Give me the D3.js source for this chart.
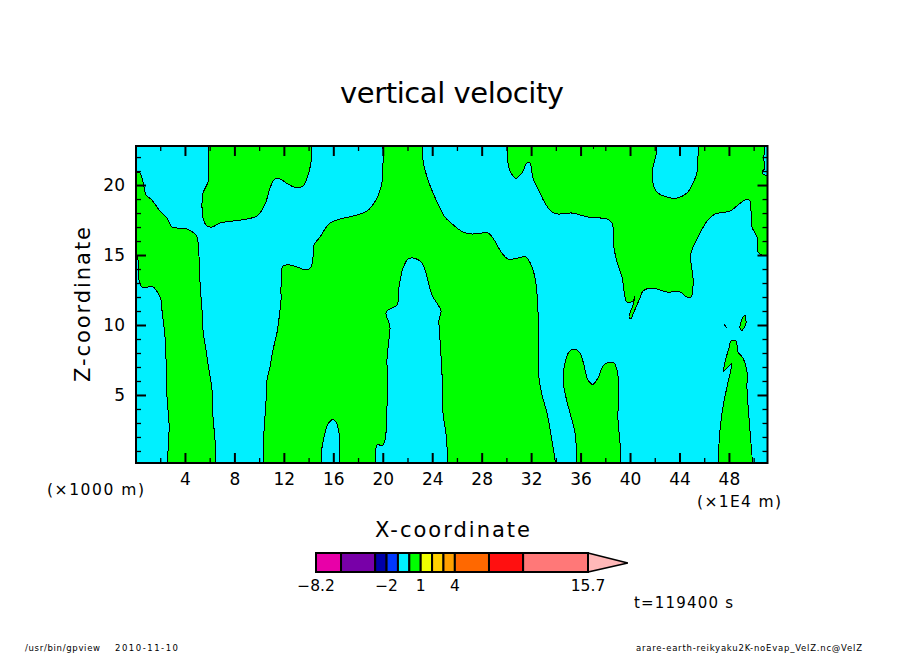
<!DOCTYPE html>
<html><head><meta charset="utf-8">
<script src="https://cdn.jsdelivr.net/npm/d3@7"></script>
<style>html,body{margin:0;padding:0;background:#fff}svg{display:block}
text{font-family:"DejaVu Sans",sans-serif;fill:#000}</style></head><body>
<script>
const title="vertical velocity", xTitle="X-coordinate", zTitle="Z-coordinate";
const xDomain=[0,51.16], zDomain=[0.14,22.79];
const xMajor=[4,8,12,16,20,24,28,32,36,40,44,48];
const xMinor=d3.range(2,51,2).filter(v=>v%4!==0);
const zMajor=[5,10,15,20];
const zMinor=d3.range(1,23).filter(v=>v%5!==0);

// Contour regions (vertical velocity above 0), x in 1E4 m, z in 1000 m
const regionA=[[0.1,20.93],[0.36,20.86],[0.61,20.21],[0.85,19.29],[1.33,18.93],[1.98,18.14],[2.55,17.64],[2.95,17],[3.36,16.93],[4.17,16.86],[4.73,16.57],[4.97,16.29],[5.14,14.86],[5.22,13],[5.38,11.07],[5.46,9.64],[5.7,8.21],[5.94,6.79],[6.19,5.36],[6.27,3.43],[6.43,1.79],[6.51,0],[2.55,0],[2.71,2.29],[2.71,3],[2.55,4.86],[2.47,7.5],[2.39,9.14],[2.14,11.07],[2.06,11.79],[1.9,12.14],[1.42,12.71],[0.53,12.71],[0.28,13.21],[0.2,14.64],[0.12,14.93],[-0.5,14.93],[-0.5,20.93]];
const regionB=[[5.86,23],[5.94,20.86],[5.86,20.21],[5.46,19.43],[5.38,18.71],[5.46,17.64],[5.78,17.07],[6.19,17],[6.83,17.29],[7.88,17.43],[9.02,17.57],[9.83,17.79],[10.23,18.21],[10.55,18.79],[10.88,19.79],[11.28,20.43],[11.69,20.43],[12.33,20.07],[13.06,19.79],[13.55,19.93],[13.87,20.5],[14.19,21.57],[14.27,23]];
const regionC=[[10.39,0],[10.39,2.29],[10.55,4.43],[10.64,6.07],[10.88,7],[11.12,8.21],[11.44,9.43],[11.69,11.07],[11.77,11.79],[11.77,12.71],[11.93,14.21],[12.5,14.29],[13.3,14.07],[13.79,13.93],[14.19,14.14],[14.36,14.86],[14.44,15.71],[14.92,16.29],[15.73,17.29],[16.54,17.57],[17.59,17.79],[18.72,18.14],[19.53,19.07],[19.94,20.21],[20.02,21.57],[20.02,23],[23.17,23],[23.25,21.79],[23.66,20.36],[24.39,18.79],[25.03,17.71],[25.44,17.36],[26.49,16.64],[27.22,16.5],[28.51,16.57],[28.91,16.21],[29.64,15.14],[30.13,14.71],[30.94,14.79],[31.58,14.86],[32.07,14.14],[32.39,13],[32.55,11.07],[32.63,9.43],[32.63,6.29],[32.88,5],[33.28,3.71],[33.68,1.79],[34,0],[25.27,0],[25.11,2.29],[24.87,3.71],[24.79,6.57],[24.63,8.93],[24.55,10.36],[24.71,11],[23.98,12.14],[23.58,13.43],[23.17,14.43],[22.44,14.79],[22.04,14.71],[21.64,14.07],[21.31,12.71],[21.15,11.43],[20.42,11.07],[20.26,10.86],[20.58,9.86],[20.5,8.93],[20.34,7.5],[20.42,5.57],[20.34,4.14],[20.26,2.29],[20.02,1.43],[19.53,1.43],[19.45,1.21],[19.37,0],[16.46,0],[16.46,2.29],[16.22,3.07],[15.97,3.29],[15.57,2.93],[15.25,2],[15.08,1.21],[15.08,0]];
const regionD=[[35.71,0],[35.55,2.29],[35.14,3.71],[34.74,5.14],[34.58,6.07],[34.74,7.29],[35.06,8.07],[35.47,8.29],[35.95,8],[36.27,7.14],[36.6,6.07],[37,5.71],[37.41,6.21],[37.81,7.07],[38.13,7.29],[38.7,7.29],[39.02,6.43],[39.1,5.14],[39.02,3.43],[39.19,1.57],[39.27,0]];
const regionE=[[47.19,0],[47.19,1.43],[47.44,3.71],[47.84,5.57],[48.16,6.79],[48.24,7.29],[47.52,6.64],[47.68,7.36],[48,8.36],[48.16,8.86],[48.57,8.86],[48.73,8.07],[49.13,7.64],[49.46,6.64],[49.46,5.5],[49.62,3.43],[49.94,0]];
const regionF=[[30.05,23],[30.13,21.57],[30.37,20.86],[30.78,20.43],[31.26,20.86],[31.66,21.57],[31.91,21.57],[32.15,20.5],[32.72,19.43],[33.12,18.71],[33.68,18.07],[34.16,17.93],[35.3,18],[36.6,17.71],[38.13,17.57],[38.54,17.29],[38.7,15.5],[39.02,14.29],[39.35,13.43],[39.59,12],[39.75,11.64],[40.24,11.71],[40.4,12.07],[40.24,11.43],[39.92,10.57],[40.08,10.43],[40.56,11.43],[40.8,11.93],[41.05,12.43],[41.77,12.64],[42.99,12.36],[44.04,12.36],[44.6,12],[44.93,12],[45.09,12.71],[45.09,13.43],[44.93,14.43],[44.93,15.14],[45.49,16.29],[46.3,17.5],[46.87,17.93],[48.08,18.14],[48.73,18.57],[49.46,19],[49.7,18.86],[49.86,17],[50.27,16.29],[50.35,15.21],[50.67,15],[51.6,15],[51.6,20.71],[50.91,20.71],[50.67,20.93],[50.91,21.21],[50.83,21.79],[50.91,23],[45.49,23],[45.41,20.86],[45.09,20.14],[44.6,19.43],[43.79,19.07],[42.99,19.14],[42.18,19.5],[41.86,20.14],[41.86,21.29],[42.1,22.14],[42.1,23],[37.24,23],[37.08,22.57],[36.92,23]];
const islandG=[[49.3,10.71],[49.13,10.57],[48.89,9.79],[49.05,9.57],[49.38,10.14]];
const speckH=[[47.6,10.07],[47.84,9.79]];
const regions=[regionA,regionB,regionC,regionD,regionE,regionF,islandG];

// Colour bar
const levels=[-8.2,-6,-3,-2,-1,0,1,2,3,4,7,10,15.7];
const levelColors=["#E800A8","#7800A8","#0000A8","#0038FF","#00F0FF","#00FF00","#F0FF00","#FFD000","#FFA000","#FF6800","#FF1010","#FF7878"];
const overColor="#FFB8B8", overEnd=19.2;
const levelLabels=[-8.2,-2,1,4,15.7];

const W=904,H=654;
const svg=d3.select("body").append("svg").attr("width",W).attr("height",H);
const x=d3.scaleLinear().domain(xDomain).range([135.5,768]);
const y=d3.scaleLinear().domain(zDomain).range([463,146]);
const [x0,x1]=x.range(), [y0,y1]=y.range();

svg.append("clipPath").attr("id","plot").append("rect").attr("x",x0).attr("y",y1).attr("width",x1-x0).attr("height",y0-y1);
const plot=svg.append("g").attr("clip-path","url(#plot)");
plot.append("rect").attr("x",x0).attr("y",y1).attr("width",x1-x0).attr("height",y0-y1).attr("fill","#00F0FF");

// Round the contours, but keep corners and cusps sharp by doubling those vertices
const line=d3.line().x(d=>x(d[0])).y(d=>y(d[1])).curve(d3.curveCatmullRomClosed.alpha(0.5));
function sharpen(pts){
  const n=pts.length,out=[];
  pts.forEach((p,i)=>{
    const a=pts[(i+n-1)%n],b=pts[(i+1)%n];
    const u=[x(p[0])-x(a[0]),y(p[1])-y(a[1])],v=[x(b[0])-x(p[0]),y(b[1])-y(p[1])];
    const cos=(u[0]*v[0]+u[1]*v[1])/(Math.hypot(...u)*Math.hypot(...v));
    out.push(p); if(cos<0.1) out.push([p[0]+1e-3,p[1]+1e-3]);
  });
  return out;
}
plot.selectAll("path.r").data(regions).join("path").attr("class","r")
  .attr("d",d=>line(sharpen(d))).attr("fill","#00FF00").attr("stroke","#000").attr("stroke-width",1)
  .attr("shape-rendering","crispEdges");
plot.append("path").attr("d",d3.line().x(d=>x(d[0])).y(d=>y(d[1]))(speckH)).attr("fill","none").attr("stroke","#000").attr("stroke-width",1).attr("shape-rendering","crispEdges");

// axes
function ax(gen,scale,vals,size,tx,ty,labels){
  const a=gen(scale).tickValues(vals).tickSize(size).tickPadding(5).tickFormat(labels?d3.format("d"):"");
  const g=svg.append("g").attr("transform",`translate(${tx},${ty})`).call(a);
  g.select(".domain").remove();
  g.selectAll("line").attr("stroke","#000").attr("stroke-width",size>6||size<-6?2:1.3);
  return g;
}
const bm=ax(d3.axisBottom,x,xMajor,-10,0,y0,true);
bm.selectAll("text").attr("font-size",17).attr("dy",0).attr("y",22);
ax(d3.axisBottom,x,xMinor,-5,0,y0,false);
ax(d3.axisTop,x,xMajor,-10,0,y1,false);
ax(d3.axisTop,x,xMinor,-5,0,y1,false);
const lm=ax(d3.axisLeft,y,zMajor,-10,x0+.5,0,true);
lm.selectAll("text").attr("font-size",17).attr("x",-11);
ax(d3.axisLeft,y,zMinor,-5,x0+.5,0,false);
ax(d3.axisRight,y,zMajor,-10,x1-.5,0,false);
ax(d3.axisRight,y,zMinor,-5,x1-.5,0,false);
svg.append("rect").attr("x",x0+.5).attr("y",y1).attr("width",x1-x0-1).attr("height",y0-y1)
  .attr("fill","none").attr("stroke","#000").attr("stroke-width",2);

function txt(s,px,py,size,len,anchor){
  return svg.append("text").text(s).attr("x",px).attr("y",py).attr("font-size",size)
    .attr("text-anchor",anchor||"middle").attr("textLength",len).attr("lengthAdjust","spacing");
}
txt(title,452,103,29,224);
txt(xTitle,452.5,537,21,155);
txt(zTitle,0,0,21,155).attr("transform","translate(90,304.5) rotate(-90)");
txt("(×1000 m)",95.5,495,15.5,97);
txt("(×1E4 m)",739,507,15.5,84);
txt("t=119400 s",683.5,608,15,99);
txt("/usr/bin/gpview",25,651,8.5,75,"start");
txt("2010-11-10",115,651,8.5,63,"start");
txt("arare-earth-reikyaku2K-noEvap_VelZ.nc@VelZ",636,651,8.5,226,"start");

// colour bar
const c=d3.scaleLinear().domain([levels[0],levels[levels.length-1]]).range([316,588]);
const barTop=553,barBot=572;
const bar=svg.append("g");
bar.append("path").attr("d",`M${c(15.7)},${barTop}L${c(overEnd)},${(barTop+barBot)/2+.5}L${c(15.7)},${barBot}Z`)
  .attr("fill",overColor).attr("stroke","#000").attr("stroke-width",1.5);
bar.selectAll("rect").data(levelColors).join("rect")
  .attr("x",(d,i)=>c(levels[i])).attr("width",(d,i)=>c(levels[i+1])-c(levels[i]))
  .attr("y",barTop).attr("height",barBot-barTop).attr("fill",d=>d)
  .attr("stroke","#000").attr("stroke-width",2);
bar.selectAll("text").data(levelLabels).join("text")
  .text(d=>d<0?"−"+Math.abs(d):d).attr("x",d=>c(d)).attr("y",591).attr("text-anchor","middle").attr("font-size",15.5);
</script></body></html>
